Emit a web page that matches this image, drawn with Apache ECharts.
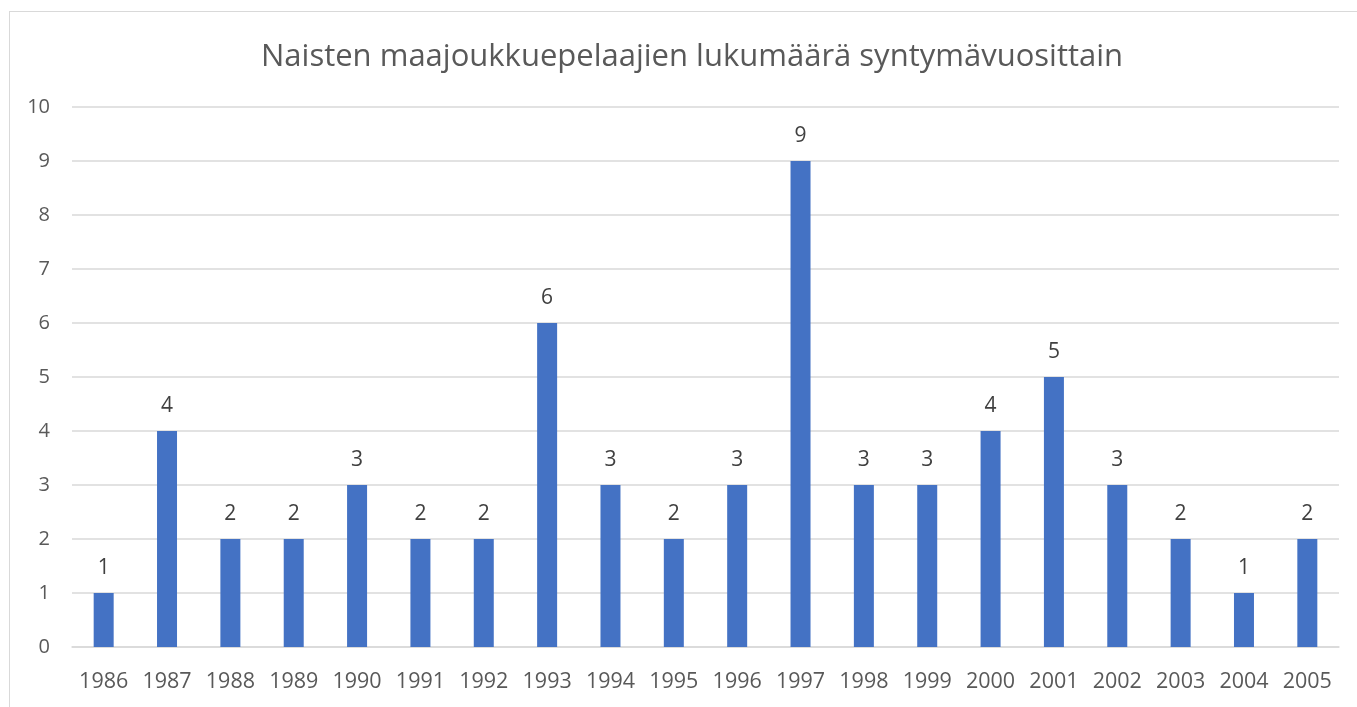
<!DOCTYPE html>
<html><head><meta charset="utf-8">
<script src="https://cdn.jsdelivr.net/npm/echarts@6/dist/echarts.min.js"></script>
<style>
html,body{margin:0;padding:0;background:#fff;}
#frame{position:absolute;left:9px;top:11px;width:1400px;height:760px;border-left:1px solid #d9d9d9;border-top:1px solid #d9d9d9;}
#c{position:absolute;left:0;top:0;width:1357px;height:707px;}
</style></head>
<body>
<div id="frame"></div>
<div id="c"></div>
<script>
const titleText = 'Naisten maajoukkuepelaajien lukumäärä syntymävuosittain';
const years = ['1986','1987','1988','1989','1990','1991','1992','1993','1994','1995','1996','1997','1998','1999','2000','2001','2002','2003','2004','2005'];
const counts = [1,4,2,2,3,2,2,6,3,2,3,9,3,3,4,5,3,2,1,2];

const font = 'Open Sans';
const chart = echarts.init(document.getElementById('c'));
chart.setOption({
  animation: false,
  backgroundColor: 'transparent',
  title: {
    text: titleText, left: 256, top: 37,
    textStyle: {fontFamily: font, fontSize: 31, fontWeight: 'normal', color: '#595959'}
  },
  grid: {left: 72, right: 18, top: 107, bottom: 60},
  xAxis: {
    type: 'category', data: years,
    axisLine: {lineStyle: {color: '#d9d9d9', width: 1.5}},
    axisTick: {show: false},
    axisLabel: {fontFamily: font, fontSize: 21.5, color: '#595959', margin: 24, interval: 0}
  },
  yAxis: {
    type: 'value', min: 0, max: 10, interval: 1,
    axisLine: {show: false}, axisTick: {show: false},
    splitLine: {lineStyle: {color: '#d9d9d9', width: 1.5}},
    axisLabel: {fontFamily: font, fontSize: 20, color: '#595959', margin: 22}
  },
  series: [{
    type: 'bar', data: counts, barWidth: 20,
    itemStyle: {color: '#4472C4'},
    label: {show: true, position: 'top', distance: 14, fontFamily: font, fontSize: 21, color: '#404040'}
  }]
});
</script>
</body></html>
